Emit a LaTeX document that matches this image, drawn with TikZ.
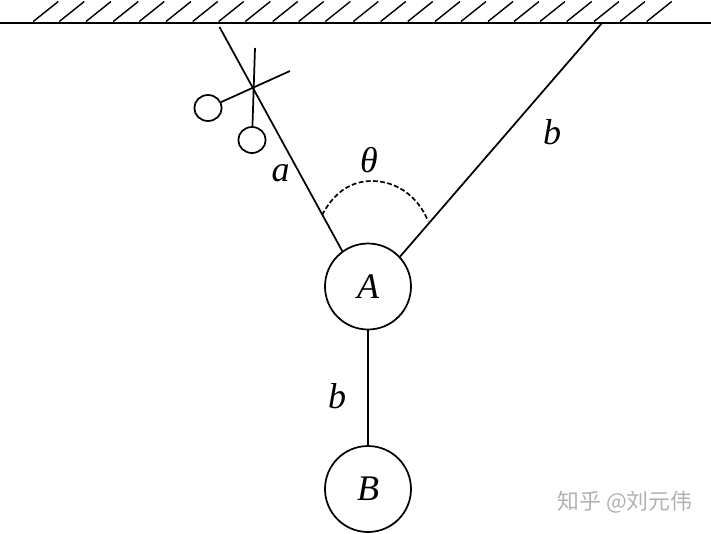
\documentclass[tikz,border=0pt]{standalone}
\usepackage{fontspec}
\setmainfont{Liberation Serif}
\newfontfamily\cjk{Noto Sans CJK SC}
\usetikzlibrary{shapes.geometric}
\tikzset{
  x=0.75pt,y=-0.75pt,
  line/.style={black,line width=1.3pt},
  ball/.style={circle,draw=black,line width=1.3pt,minimum size=64.5pt,inner sep=0pt,font=\fontsize{27}{30}\selectfont\itshape},
  lab/.style={inner sep=0pt,font=\fontsize{27}{30}\selectfont\itshape},
  hatch/.style={black,line width=1.05pt},
  ring/.style={ellipse,draw=black,line width=1.3pt,minimum width=20.5pt,minimum height=19.5pt,inner sep=0pt},
  wmark/.style={inner sep=0pt,text=black!30,font=\fontsize{16.4}{18}\cjk}
}
\begin{document}
\begin{tikzpicture}
\useasboundingbox (0,0) rectangle (711,533);
\fill[white] (0,0) rectangle (711,533);
% ceiling
\coordinate (wl) at (0,23);
\coordinate (wr) at (711,23);
\draw[black,line width=1.6pt] (wl) -- (wr);
\foreach \h in {33.3,59.3,86,113.3,139.3,166,192.7,218.7,245.3,272.7,298.7,325.3,353.3,380.7,407.7,435,461,488,514,540,566.7,594,620,646.7}
  \draw[hatch] (\h,21.5) -- ++(25,-20);
% masses
\node[ball] (A) at (368,286.5) {A};
\node[ball] (B) at (368,489) {B};
% ropes
\coordinate (La) at (219.5,27);
\coordinate (Rb) at (602,23);
\draw[line] (La) -- (A.126);
\draw[line] (Rb) -- (A.43);
\draw[line] (A) -- (B);
% scissors
\node[ring] (r1) at (208,108) {};
\node[ring] (r2) at (252,140) {};
\coordinate (s1) at (290,71);
\coordinate (s2) at (255,48);
\draw[line] (s1) -- (r1);
\draw[line] (s2) -- (r2);
% angle
\coordinate (t1) at (322,215);
\coordinate (t2) at (428,221);
\draw[line,line width=1.25pt,dash pattern=on 3.6pt off 1.8pt] (t1) .. controls (335,191) and (352,181) .. (372,181) .. controls (396,181) and (418,196) .. (t2);
% labels
\node[lab] (la) at (280.5,173) {a};
\node[lab] (lb1) at (552,132.5) {b};
\node[lab] (lb2) at (337,396) {b};
\node[lab] (lt) at (369,160) {θ};
\node[wmark] (wm) at (625,502) {知乎 @刘元伟};
\end{tikzpicture}
\end{document}
